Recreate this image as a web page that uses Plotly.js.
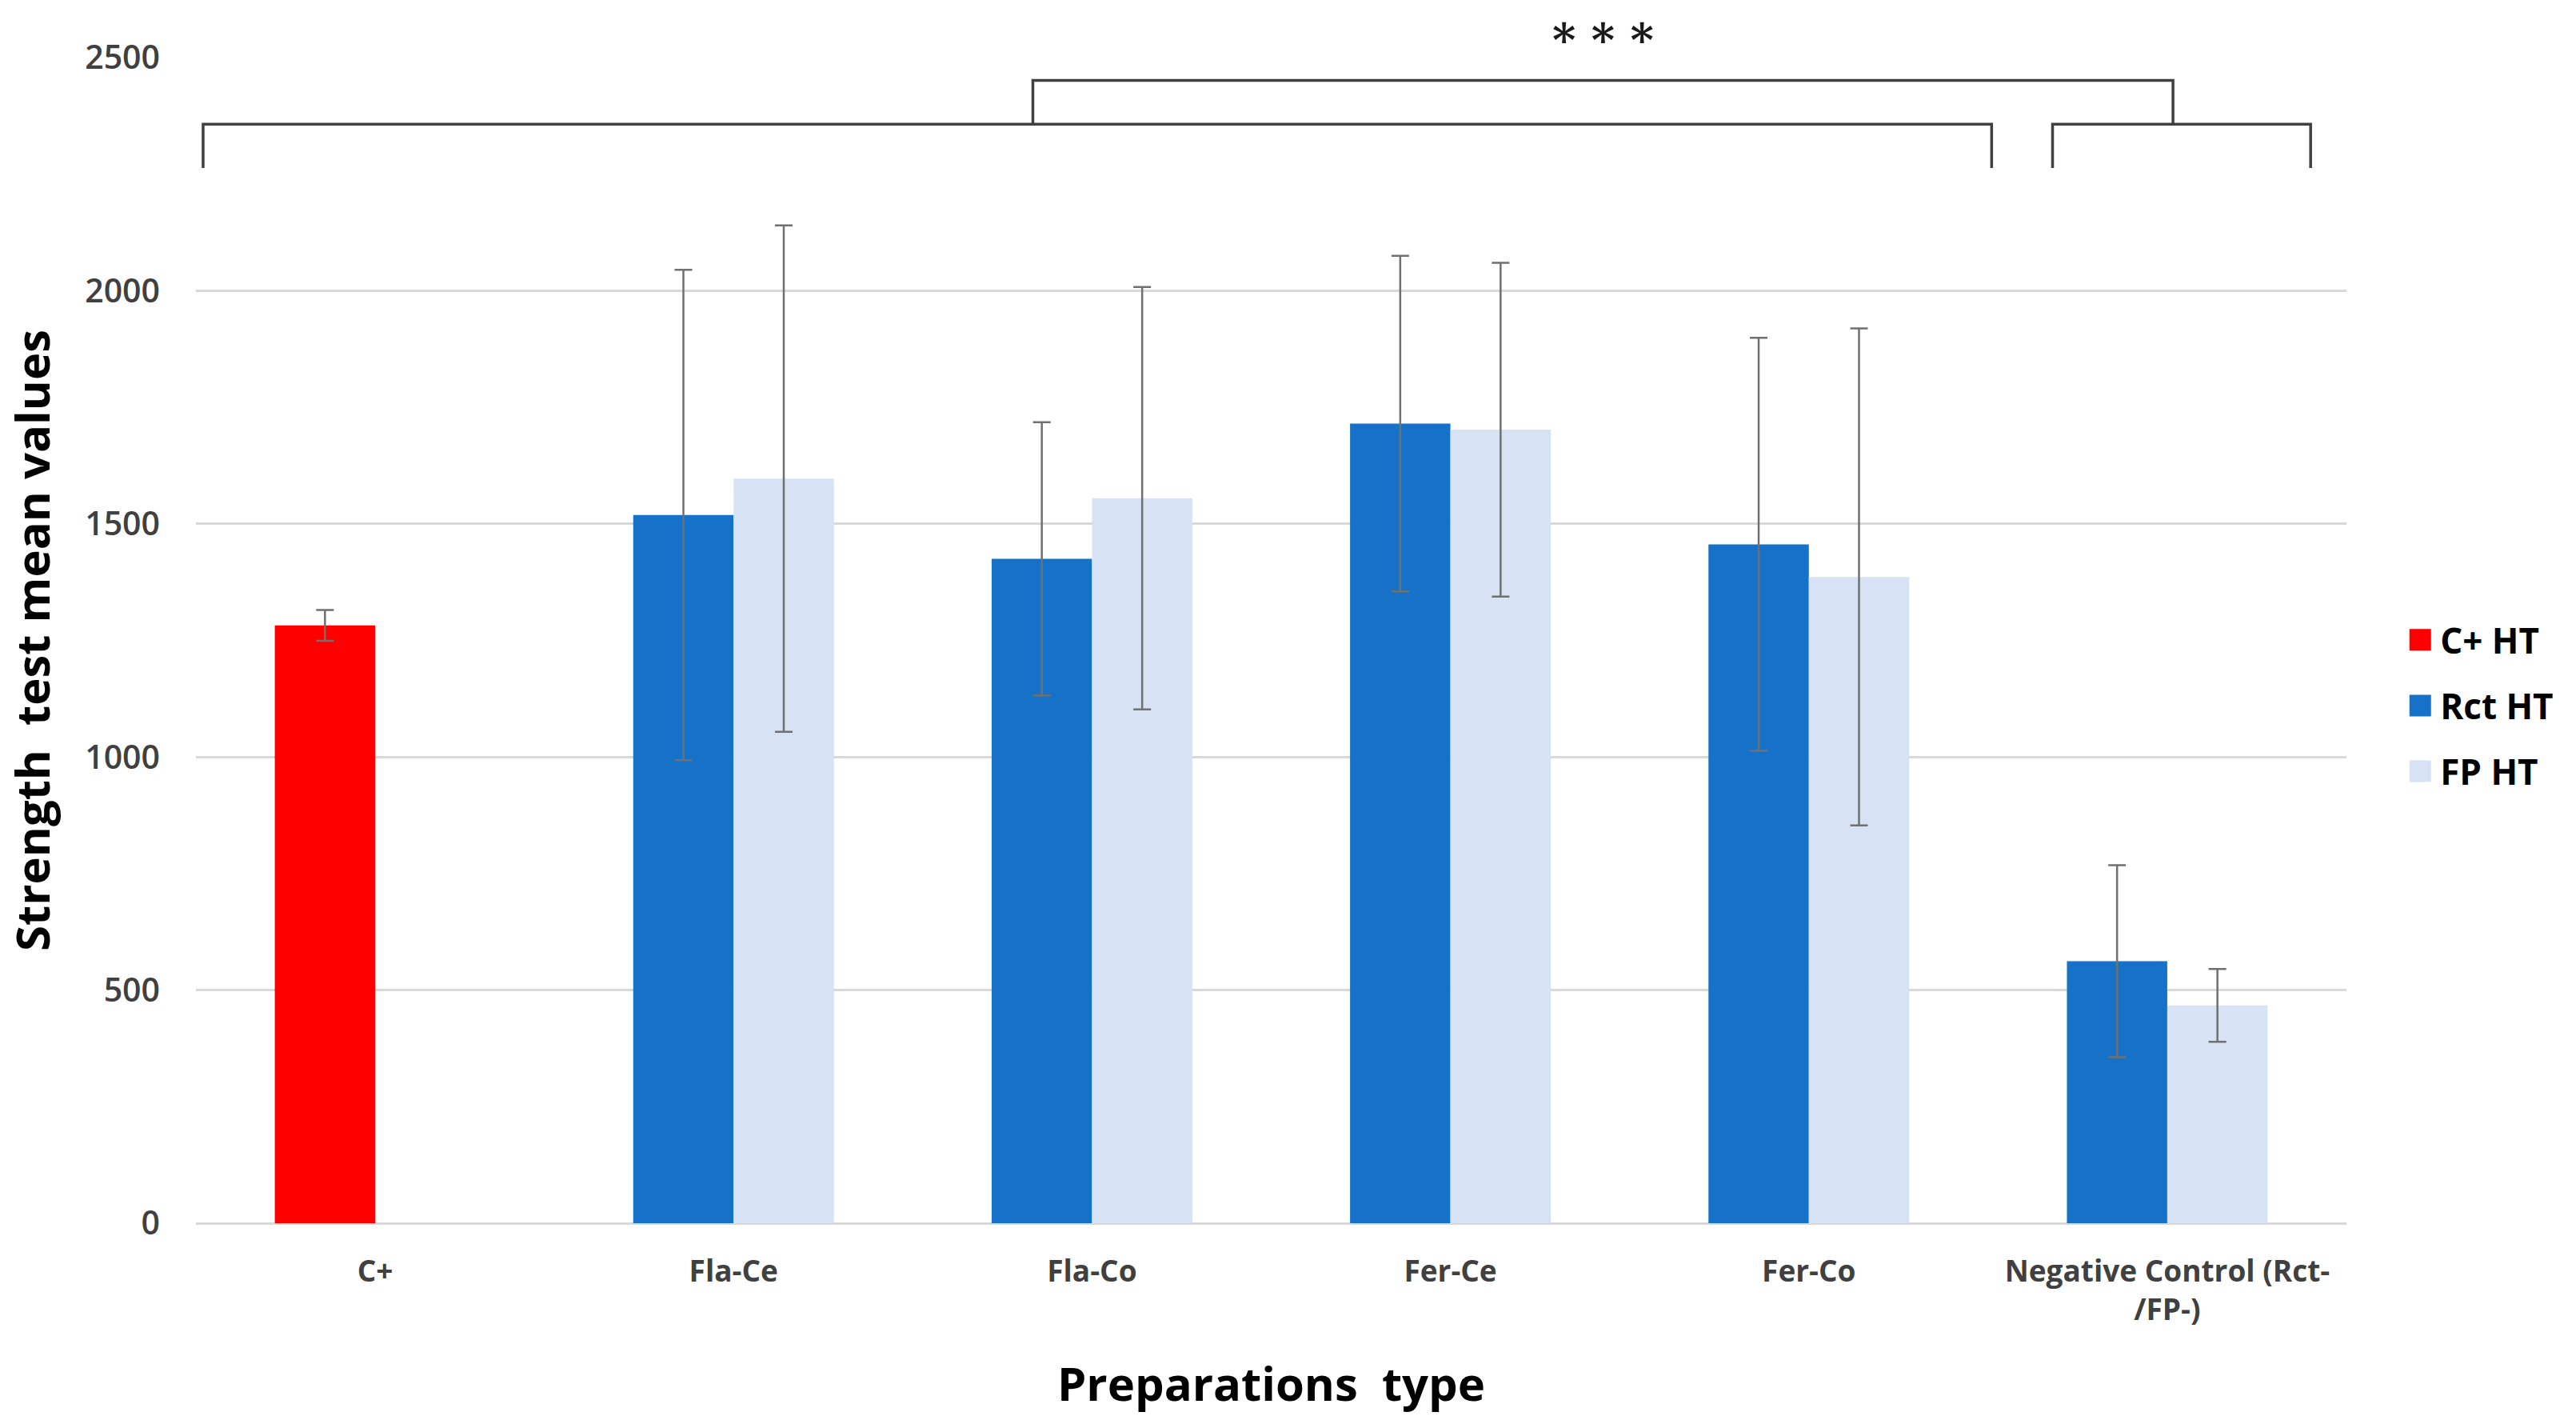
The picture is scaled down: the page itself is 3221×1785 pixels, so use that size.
<!DOCTYPE html>
<html>
<head>
<meta charset="utf-8">
<script src="https://cdn.plot.ly/plotly-3.0.1.min.js"></script>
<style>
html,body{margin:0;padding:0;background:#fff;}
#chart{width:3221px;height:1785px;}
</style>
</head>
<body>
<div id="chart"></div>
<script>
// ---- data ----
const categories = ["C+", "Fla-Ce", "Fla-Co", "Fer-Ce", "Fer-Co", "Negative Control (Rct-<br>/FP-)"];
const seriesNames = ["C+ HT", "Rct HT", "FP HT"];
const cplusHT    = [1282, null, null, null, null, null];
const cplusHTErr = [33, null, null, null, null, null];
const rctHT      = [null, 1519, 1425, 1715, 1456, 562];
const rctHTErr   = [null, 526, 293, 360, 443, 206];
const fpHT       = [null, 1597, 1555, 1702, 1386, 467];
const fpHTErr    = [null, 543, 453, 358, 533, 78];
const yTicks     = [0, 500, 1000, 1500, 2000, 2500];
const signifText = "* * *";

// significance brackets (category-index x, value y)
const brackets = [
  {x0: -0.48, x1: 4.51, yTop: 2357, yLeg: 2263},
  {x0: 4.68,  x1: 5.40, yTop: 2357, yLeg: 2263},
  {x0: 1.835, x1: 5.016, yTop: 2451, yLeg: 2357}
];

const errStyle = {type: 'data', visible: true, color: '#707070', thickness: 2.5, width: 11};

function bar(name, y, err, color, group) {
  return {
    type: 'bar', name: name, x: categories, y: y,
    offsetgroup: group, legendgroup: name,
    marker: {color: color, line: {width: 0}},
    error_y: Object.assign({array: err}, errStyle),
    hoverinfo: 'x+y'
  };
}

const traces = [
  bar(seriesNames[0], cplusHT, cplusHTErr, '#FF0000', 'a'),
  bar(seriesNames[1], rctHT, rctHTErr, '#1572C8', 'a'),
  bar(seriesNames[2], fpHT, fpHTErr, '#D7E3F4', 'b')
];

const shapes = brackets.map(b => ({
  type: 'path', xref: 'x', yref: 'y',
  path: `M ${b.x0} ${b.yLeg} L ${b.x0} ${b.yTop} L ${b.x1} ${b.yTop} L ${b.x1} ${b.yLeg}`,
  line: {color: '#404040', width: 3.5}
}));

const layout = {
  width: 3221, height: 1785,
  paper_bgcolor: '#ffffff', plot_bgcolor: '#ffffff',
  margin: {l: 245, r: 287, t: 72, b: 256, pad: 0},
  barmode: 'group', bargap: 0.44, bargroupgap: 0,
  font: {family: 'Open Sans, sans-serif', color: '#404040'},
  xaxis: {
    type: 'category', showgrid: false, showline: false, ticks: '',
    tickfont: {size: 37, color: '#404040', weight: 700},
    ticklabelstandoff: 35,
    title: {text: 'Preparations  type', font: {size: 58, color: '#000000', weight: 700}, standoff: 50},
    automargin: false
  },
  yaxis: {
    range: [0, 2500], autorange: false, tickvals: yTicks,
    showgrid: true, gridcolor: '#D9D9D9', gridwidth: 3,
    zeroline: true, zerolinecolor: '#D9D9D9', zerolinewidth: 3,
    showline: false, ticks: '',
    tickfont: {size: 41, color: '#404040', weight: 600},
    ticklabelstandoff: 44,
    title: {text: 'Strength  test mean values', font: {size: 58, color: '#000000', weight: 700}, standoff: 58},
    automargin: false
  },
  showlegend: true,
  legend: {
    x: 1.025, xanchor: 'left', y: 0.444, yanchor: 'middle',
    font: {size: 44, color: '#000000', weight: 700},
    traceorder: 'grouped', tracegroupgap: 22,
    bgcolor: 'rgba(0,0,0,0)', borderwidth: 0, itemwidth: 40
  },
  shapes: shapes,
  annotations: [{
    xref: 'x', yref: 'paper', x: (brackets[2].x0 + brackets[2].x1) / 2, y: 1.0,
    yanchor: 'middle', yshift: 22, showarrow: false, text: signifText,
    font: {family: 'DejaVu Serif, serif', size: 56, color: '#1a1a1a', weight: 700}
  }]
};

Plotly.newPlot('chart', traces, layout, {staticPlot: true, displayModeBar: false}).then(gd => {
  // enlarge the legend swatches (keep Plotly's own centering transform)
  document.querySelectorAll('.legend .legendpoints path').forEach(p => {
    p.setAttribute('d', 'M13.5,13.5H-13.5V-13.5H13.5Z');
  });
});
</script>
</body>
</html>
